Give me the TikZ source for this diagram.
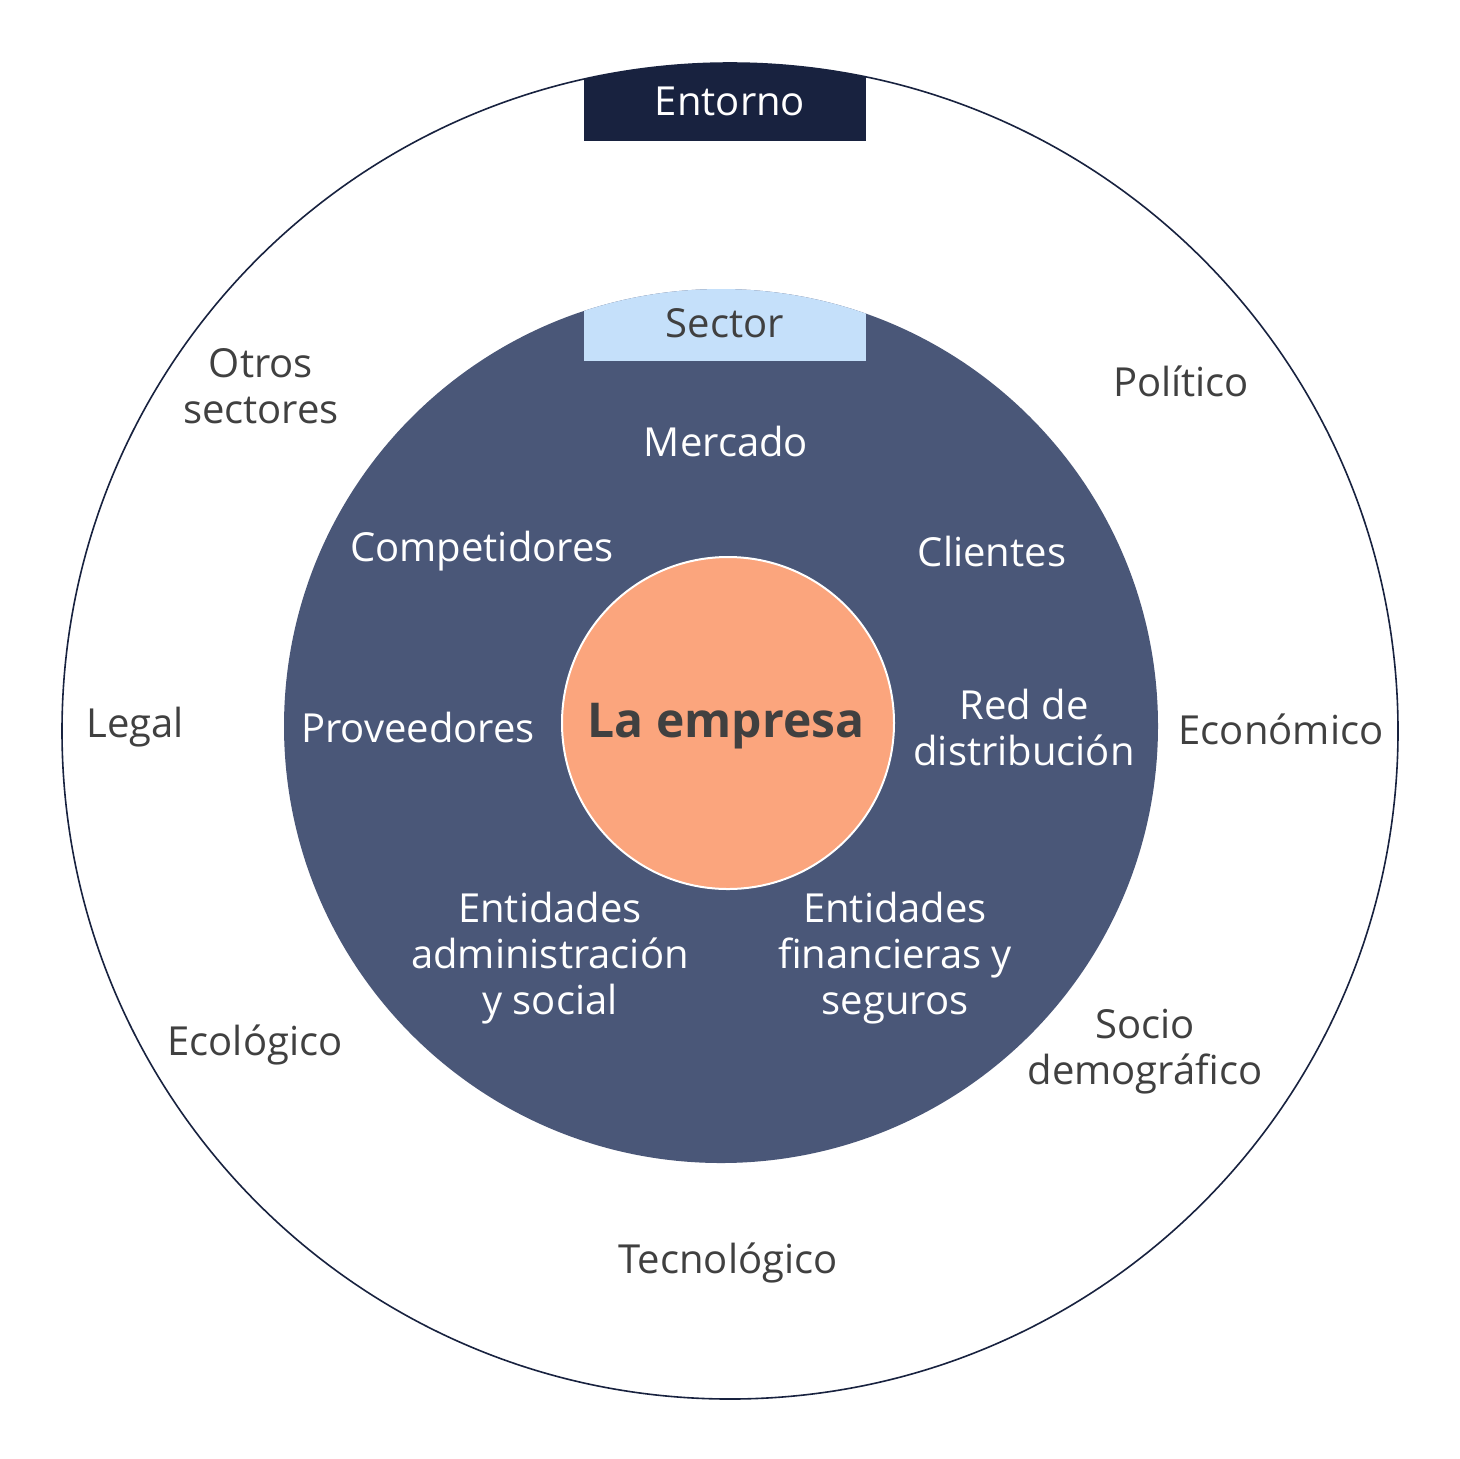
\documentclass[tikz,border=0pt]{standalone}
\usepackage{fontspec}
\setmainfont{Open Sans}
\definecolor{navy}{HTML}{18223F}
\definecolor{midblue}{HTML}{4A5778}
\definecolor{lightblue}{HTML}{C5E0FA}
\definecolor{peach}{HTML}{FBA57D}
\definecolor{txt}{HTML}{404040}
\begin{document}
\begin{tikzpicture}[x=0.5pt,y=-0.5pt,
  outer/.style={text=txt,font=\fontsize{20}{23}\selectfont,align=center},
  inner/.style={text=white,font=\fontsize{20}{23}\selectfont,align=center}]
\useasboundingbox (0,0) rectangle (1460,1458);
\fill[white] (0,0) rectangle (1460,1458);
\draw[navy,line width=0.8pt] (730,731) circle[radius=668];
\begin{scope}
\clip (730,731) circle[radius=668];
\fill[navy] (584,40) rectangle (866,141);
\end{scope}
\node[text=white,font=\fontsize{20}{23}\selectfont] (entorno) at (730,101) {Entorno};
\fill[midblue] (721,726) circle[radius=437];
\begin{scope}
\clip (721,726) circle[radius=437];
\fill[lightblue] (584,280) rectangle (866,361);
\end{scope}
\node[text=txt,font=\fontsize{20}{23}\selectfont] (sector) at (725,323) {Sector};
\draw[white,fill=peach,line width=1pt] (728,723) circle[radius=166];
\node[text=txt,font=\bfseries\fontsize{24}{28}\selectfont] (emp) at (726,726) {La empresa};
\node[inner] (merc) at (726,441) {Mercado};
\node[inner] (comp) at (482,551) {Competidores};
\node[inner] (cli) at (992,551) {Clientes};
\node[inner] (prov) at (418,727) {Proveedores};
\node[inner] (red) at (1024,727) {Red de\\distribución};
\node[inner] (ea) at (550,958) {Entidades\\administración\\y social};
\node[inner] (ef) at (895,958) {Entidades\\financieras y\\seguros};
\node[outer] (otros) at (261,386) {Otros\\sectores};
\node[outer] (pol) at (1181,381) {Político};
\node[outer] (leg) at (135,727) {Legal};
\node[outer] (eco) at (1281,729) {Económico};
\node[outer] (ecol) at (255,1045) {Ecológico};
\node[outer] (soc) at (1145,1052) {Socio\\demográfico};
\node[outer] (tec) at (728,1263) {Tecnológico};
\end{tikzpicture}
\end{document}
